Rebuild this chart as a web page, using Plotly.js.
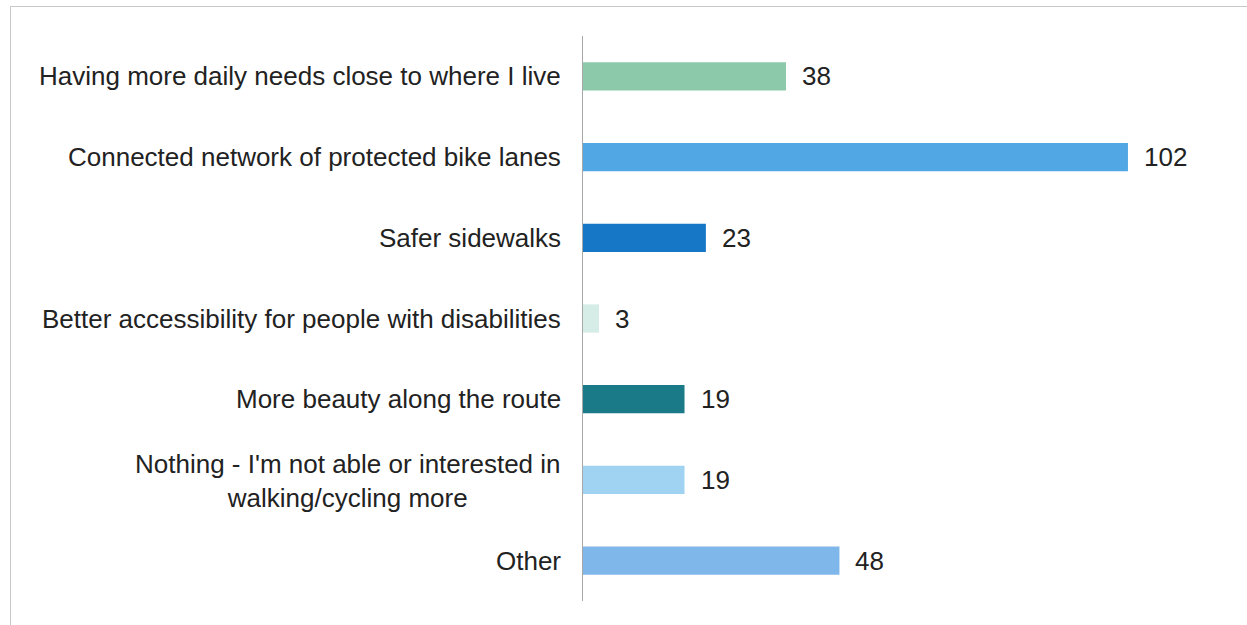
<!DOCTYPE html>
<html>
<head>
<meta charset="utf-8">
<script src="https://cdn.plot.ly/plotly-3.0.1.min.js"></script>
<style>
  html, body { margin: 0; padding: 0; background: #ffffff; }
  #wrap { position: relative; width: 1247px; height: 625px; overflow: hidden; }
  #chart { position: absolute; left: 0; top: 0; width: 1247px; height: 625px; }
  #frame { position: absolute; left: 10px; top: 6px; width: 1240px; height: 630px;
           border-top: 1px solid #c8c8c8; border-left: 1px solid #c8c8c8; pointer-events: none; }
</style>
</head>
<body>
<div id="wrap">
  <div id="chart"></div>
  <div id="frame"></div>
</div>
<script>
const categories = [
  "Having more daily needs close to where I live",
  "Connected network of protected bike lanes",
  "Safer sidewalks",
  "Better accessibility for people with disabilities",
  "More beauty along the route",
  "Nothing - I'm not able or interested in<br>walking/cycling more",
  "Other"
];
const values = [38, 102, 23, 3, 19, 19, 48];
const barColors = ["#8cc9aa", "#51a7e4", "#1677c6", "#d6ece7", "#1a7a87", "#9fd3f1", "#80b7ea"];

const yIdx = categories.map((c, i) => i);

const trace = {
  type: "bar",
  orientation: "h",
  x: values,
  y: yIdx,
  marker: { color: barColors, line: { width: 0 } },
  width: 0.35,
  hoverinfo: "skip"
};

const FONT = "Liberation Sans";
const annotations = [];
categories.forEach((c, i) => {
  annotations.push({
    xref: "paper", yref: "y", x: 0, y: i,
    xanchor: "right", yanchor: "middle", xshift: -20, yshift: (c.indexOf("<br>") >= 0 ? -1 : 0),
    text: c, showarrow: false, align: "center",
    font: { family: FONT, size: 26, color: "#222222" }
  });
  annotations.push({
    xref: "x", yref: "y", x: values[i], y: i,
    xanchor: "left", yanchor: "middle", xshift: 14,
    text: String(values[i]), showarrow: false,
    font: { family: FONT, size: 26, color: "#222222" }
  });
});

const layout = {
  width: 1247, height: 625,
  margin: { l: 583, r: 17, t: 36, b: 24 },
  paper_bgcolor: "rgba(0,0,0,0)",
  plot_bgcolor: "rgba(0,0,0,0)",
  showlegend: false,
  font: { family: FONT },
  xaxis: {
    range: [0, 121.1], showgrid: false, zeroline: false, showline: false,
    showticklabels: false, ticks: "", fixedrange: true
  },
  yaxis: {
    range: [6.5, -0.5], showgrid: false, zeroline: false,
    showline: true, linecolor: "#a8a8a8", linewidth: 1,
    showticklabels: false, ticks: "", fixedrange: true
  },
  annotations: annotations
};

Plotly.newPlot("chart", [trace], layout, { displayModeBar: false, staticPlot: true });
</script>
</body>
</html>
